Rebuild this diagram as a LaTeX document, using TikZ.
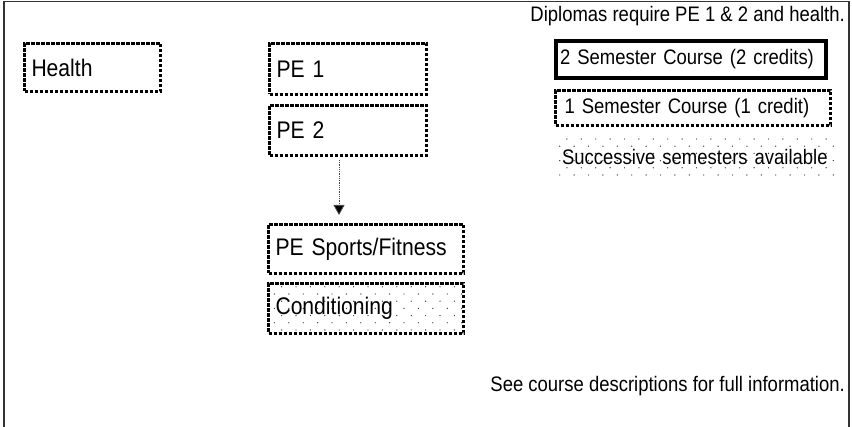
\documentclass[tikz,border=0pt]{standalone}
\usepackage{fontspec}
\setmainfont{Liberation Sans}[FakeStretch=0.88]
\usetikzlibrary{arrows.meta}
\tikzset{
  speck/.style={fill=black!75},
  % #1,#2: first dot, shifted (in pt, y up) from the node's north west corner; #3 columns; #4 rows
  specks/.style n args={4}{path picture={
    \foreach \r in {0,...,#4} {
      \pgfmathsetmacro{\dx}{#1+mod(\r,2)*7.2}
      \pgfmathsetmacro{\dy}{#2-\r*7.2}
      \foreach \c in {0,...,#3} {
        \fill[speck] ([xshift=\dx pt+\c*14.4pt, yshift=\dy pt]path picture bounding box.north west) circle (0.7pt);
      }
    }}},
  dotbox/.style={draw=black, line width=3.5pt, dash pattern=on 3.3pt off 1.7pt,
    rectangle, inner xsep=7pt, inner ysep=0pt, align=left,
    font=\fontsize{24}{26}\selectfont},
  solidbox/.style={draw=black, line width=4pt, rectangle, inner xsep=4pt,
    inner ysep=0pt, align=left, font=\fontsize{21}{23}\selectfont},
  legdot/.style={dotbox, inner xsep=9pt, font=\fontsize{21}{23}\selectfont},
  plain/.style={inner sep=0pt, font=\fontsize{21}{23}\selectfont},
  flow/.style={densely dotted, line width=0.8pt, draw=black!70,
    -{Triangle[width=11pt,length=10pt,fill=black]}}
}
\begin{document}
\begin{tikzpicture}[x=1pt,y=-1pt]
  \useasboundingbox (0,0) rectangle (852,427);
  \draw[line width=1.5pt, black!80] (4,427) -- (4,1.5) -- (849,1.5) -- (849,427);

  \node[dotbox, text width=122pt, minimum height=48pt] (health) at (92.5,67.5) {Health};
  \node[dotbox, text width=143pt, minimum height=51pt] (pe1) at (348,69) {PE 1};
  \node[dotbox, text width=143pt, minimum height=50pt] (pe2) at (348,130.5) {PE 2};
  \node[dotbox, text width=181pt, minimum height=49pt] (sports) at (366,249) {PE Sports/Fitness};
  \node[dotbox, specks={5.9}{3.9}{14}{9}, text width=181pt, minimum height=50pt] (cond) at (366,308.5) {Conditioning};

  \coordinate (a1) at (339,160);
  \coordinate (a2) at (339,215);
  \draw[flow] (a1) -- (a2);

  \node[plain, anchor=east] (dip) at (845,16) {Diplomas require PE 1 \& 2 and health.};
  \node[solidbox, text width=262pt, minimum height=37pt] (two) at (691,59.5) {2 Semester Course (2 credits)};
  \node[legdot, text width=257pt, minimum height=35pt] (one) at (693,108) {1 Semester Course (1 credit)};
  \node[plain, specks={-2.5}{-2}{20}{5}, fill=white, inner xsep=7pt, text width=266pt, minimum height=40pt, align=left] (succ) at (695,157) {Successive semesters available};

  \node[plain, anchor=east] (see) at (845,386) {See course descriptions for full information.};
\end{tikzpicture}
\end{document}
